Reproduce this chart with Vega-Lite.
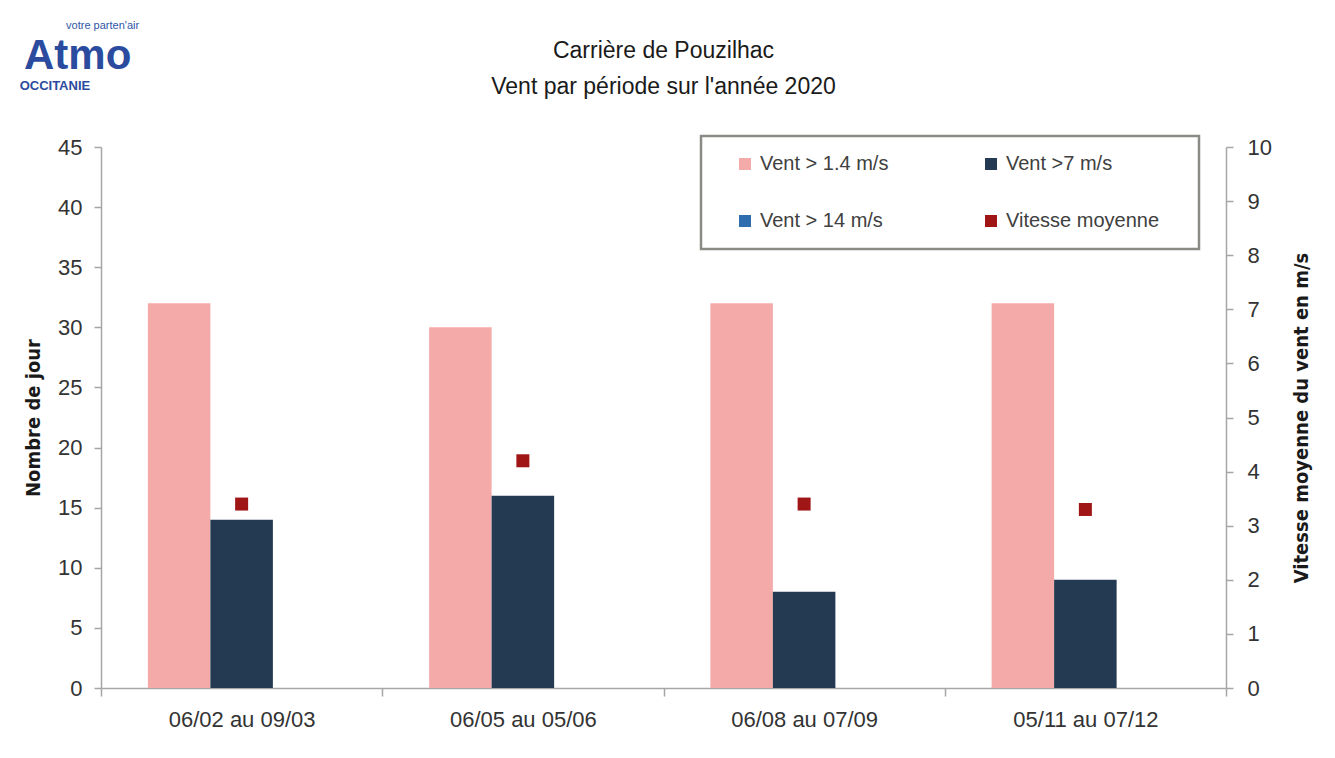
{
  "$schema": "https://vega.github.io/schema/vega-lite/v6.json",
  "width": 1125,
  "height": 541,
  "autosize": {"type": "none"},
  "padding": {"left": 101, "top": 147, "right": 109, "bottom": 70},
  "background": "white",
  "title": {
    "text": ["Carrière de Pouzilhac", "Vent par période sur l'année 2020"],
    "font": "Liberation Sans",
    "fontSize": 23,
    "fontWeight": "normal",
    "color": "#1a1a1a",
    "lineHeight": 36,
    "offset": 0,
    "dy": 79,
    "anchor": "middle"
  },
  "config": {
    "view": {"stroke": null},
    "font": "Liberation Sans",
    "axis": {"grid": false}
  },
  "datasets": {
    "jours": [
      {"periode": "06/02 au 09/03", "serie": "Vent > 1.4 m/s", "jours": 32},
      {"periode": "06/02 au 09/03", "serie": "Vent >7 m/s", "jours": 14},
      {"periode": "06/02 au 09/03", "serie": "Vent > 14 m/s", "jours": 0},
      {"periode": "06/05 au 05/06", "serie": "Vent > 1.4 m/s", "jours": 30},
      {"periode": "06/05 au 05/06", "serie": "Vent >7 m/s", "jours": 16},
      {"periode": "06/05 au 05/06", "serie": "Vent > 14 m/s", "jours": 0},
      {"periode": "06/08 au 07/09", "serie": "Vent > 1.4 m/s", "jours": 32},
      {"periode": "06/08 au 07/09", "serie": "Vent >7 m/s", "jours": 8},
      {"periode": "06/08 au 07/09", "serie": "Vent > 14 m/s", "jours": 0},
      {"periode": "05/11 au 07/12", "serie": "Vent > 1.4 m/s", "jours": 32},
      {"periode": "05/11 au 07/12", "serie": "Vent >7 m/s", "jours": 9},
      {"periode": "05/11 au 07/12", "serie": "Vent > 14 m/s", "jours": 0}
    ],
    "vitesse": [
      {"periode": "06/02 au 09/03", "vitesse": 3.4},
      {"periode": "06/05 au 05/06", "vitesse": 4.2},
      {"periode": "06/08 au 07/09", "vitesse": 3.4},
      {"periode": "05/11 au 07/12", "vitesse": 3.3}
    ],
    "logo": [{"periode": "06/02 au 09/03"}]
  },
  "encoding": {
    "x": {
      "field": "periode",
      "type": "nominal",
      "scale": {
        "domain": ["06/02 au 09/03", "06/05 au 05/06", "06/08 au 07/09", "05/11 au 07/12"],
        "paddingInner": 0,
        "paddingOuter": 0
      },
      "axis": {
        "title": null,
        "labelAngle": 0,
        "labelFontSize": 22,
        "labelColor": "#333333",
        "labelPadding": 13,
        "tickBand": "extent",
        "tickSize": 8,
        "tickColor": "#a6a6a6",
        "tickWidth": 1.5,
        "domainColor": "#a6a6a6",
        "domainWidth": 1.5
      }
    }
  },
  "layer": [
    {
      "layer": [
        {
          "data": {"name": "jours"},
          "mark": {"type": "bar"},
          "encoding": {
            "xOffset": {
              "field": "serie",
              "type": "nominal",
              "scale": {
                "domain": ["Vent > 1.4 m/s", "Vent >7 m/s", "Vent > 14 m/s"],
                "paddingInner": 0,
                "paddingOuter": 0.75
              }
            },
            "y": {
              "field": "jours",
              "type": "quantitative",
              "scale": {"domain": [0, 45], "nice": false},
              "axis": {
                "title": "Nombre de jour",
                "values": [0, 5, 10, 15, 20, 25, 30, 35, 40, 45],
                "labelFontSize": 22,
                "labelColor": "#333333",
                "labelPadding": 12,
                "tickSize": 7,
                "tickColor": "#a6a6a6",
                "tickWidth": 1.5,
                "domainColor": "#a6a6a6",
                "domainWidth": 1.5,
                "titleFont": "DejaVu Sans Condensed, Liberation Sans",
                "titleFontWeight": "bold",
                "titleFontSize": 20,
                "titleColor": "#1a1a1a",
                "titlePadding": 14
              }
            },
            "color": {
              "field": "serie",
              "type": "nominal",
              "scale": {
                "domain": ["Vent > 1.4 m/s", "Vent >7 m/s", "Vent > 14 m/s", "Vitesse moyenne"],
                "range": ["#f4aaa8", "#243a52", "#2e6eae", "#a01616"]
              },
              "legend": {
                "orient": "none",
                "legendX": 600,
                "legendY": -11,
                "direction": "horizontal",
                "columns": 2,
                "title": "\u00a0",
                "titleOrient": "right",
                "titleFontSize": 20,
                "titlePadding": 22,
                "symbolType": "square",
                "symbolSize": 144,
                "symbolStrokeWidth": 0,
                "symbolOffset": 16,
                "labelFont": "Liberation Sans",
                "labelFontSize": 20,
                "labelColor": "#404040",
                "labelOffset": 5,
                "columnPadding": 76,
                "rowPadding": 37,
                "padding": 18,
                "strokeColor": "#8c8a85",
                "fillColor": "white",
                "encode": {
                  "legend": {"update": {"strokeWidth": {"value": 2.5}}}
                }
              }
            }
          }
        },
        {
          "data": {"name": "logo"},
          "mark": {"type": "text", "text": "votre parten'air", "font": "Liberation Sans", "fontSize": 11, "color": "#2f57a8", "align": "center", "baseline": "alphabetic", "dx": -139},
          "encoding": {"y": {"datum": 54.8, "type": "quantitative"}}
        },
        {
          "data": {"name": "logo"},
          "mark": {"type": "text", "text": "Atmo", "font": "Liberation Sans", "fontWeight": "bold", "fontSize": 42, "color": "#2b4c9e", "align": "center", "baseline": "alphabetic", "dx": -164},
          "encoding": {"y": {"datum": 51.5, "type": "quantitative"}}
        },
        {
          "data": {"name": "logo"},
          "mark": {"type": "text", "text": "OCCITANIE", "font": "Liberation Sans", "fontWeight": "bold", "fontSize": 13, "color": "#2b4c9e", "align": "left", "baseline": "alphabetic", "dx": -222},
          "encoding": {"y": {"datum": 49.75, "type": "quantitative"}}
        }
      ]
    },
    {
      "data": {"name": "vitesse"},
      "mark": {"type": "point", "shape": "square", "filled": true, "size": 169, "opacity": 1},
      "encoding": {
        "y": {
          "field": "vitesse",
          "type": "quantitative",
          "scale": {"domain": [0, 10], "nice": false},
          "axis": {
            "orient": "right",
            "title": "Vitesse moyenne du vent en m/s",
            "values": [0, 1, 2, 3, 4, 5, 6, 7, 8, 9, 10],
            "labelFontSize": 22,
            "labelColor": "#333333",
            "labelPadding": 14,
            "tickSize": 7,
            "tickColor": "#a6a6a6",
            "tickWidth": 1.5,
            "domainColor": "#a6a6a6",
            "domainWidth": 1.5,
            "titleFont": "DejaVu Sans Condensed, Liberation Sans",
            "titleFontWeight": "bold",
            "titleFontSize": 20,
            "titleColor": "#1a1a1a",
            "titleAngle": 270,
            "titlePadding": 40
          }
        },
        "color": {"datum": "Vitesse moyenne"}
      }
    }
  ],
  "resolve": {"scale": {"y": "independent"}}
}
